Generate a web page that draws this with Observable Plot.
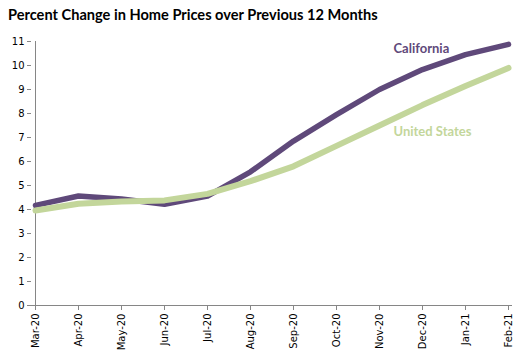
<!DOCTYPE html>
<html><head><meta charset="utf-8">
<script src="https://cdn.jsdelivr.net/npm/d3@7"></script>
<script src="https://cdn.jsdelivr.net/npm/@observablehq/plot@0.6"></script>
<style>
body{margin:0;background:#fff;}
#title{position:absolute;left:8px;top:6px;font:bold 14.6px Lato,sans-serif;color:#000;white-space:nowrap;}
#chart{position:absolute;left:0;top:30px;}
</style></head>
<body>
<div id="title">Percent Change in Home Prices over Previous 12 Months</div>
<div id="chart"></div>
<script>
const months = ["Mar-20","Apr-20","May-20","Jun-20","Jul-20","Aug-20","Sep-20","Oct-20","Nov-20","Dec-20","Jan-21","Feb-21"];
const california = [4.17,4.56,4.44,4.22,4.56,5.57,6.85,7.95,9.0,9.83,10.45,10.88];
const unitedStates = [3.96,4.24,4.33,4.38,4.65,5.18,5.8,6.65,7.5,8.35,9.15,9.9];
const yTicks = [0,1,2,3,4,5,6,7,8,9,10,11];

const purple = "#5f497a", green = "#c3d69b", axisGray = "#868686";
const rows = [];
months.forEach((m,i)=>{rows.push({m, v: unitedStates[i], s:"United States"});});
months.forEach((m,i)=>{rows.push({m, v: california[i], s:"California"});});

const chart = Plot.plot({
  width: 525, height: 332,
  marginTop: 11, marginBottom: 57, marginLeft: 31, marginRight: 13,
  style: {fontFamily: "DejaVu Sans, sans-serif", fontSize: "10px", color: "#000"},
  x: {type: "point", domain: months, padding: 0},
  y: {domain: [0, 11]},
  marks: [
    Plot.axisY({ticks: yTicks, tickSize: 4, tickPadding: 3, stroke: axisGray, label: null, tickFormat: d=>d, fill:"#000"}),
    Plot.axisX({tickRotate: -90, tickSize: 5, tickPadding: 3, stroke: axisGray, label: null, fill:"#000"}),
    Plot.ruleX([months[0]], {y1: 0, y2: 11, stroke: axisGray}),
    Plot.ruleY([0], {stroke: axisGray}),
    Plot.line(rows.filter(d=>d.s==="California"), {x:"m", y:"v", stroke: purple, strokeWidth: 5.5, strokeLinejoin:"round"}),
    Plot.line(rows.filter(d=>d.s==="United States"), {x:"m", y:"v", stroke: green, strokeWidth: 6, strokeLinejoin:"round"}),
    Plot.text(["California"], {x: ()=>"Nov-20", y: ()=>10.7, dx: 14, text: d=>d, textAnchor:"start", fill: purple, fontWeight:"bold", fontSize: 13, fontFamily:"Lato, sans-serif"}),
    Plot.text(["United States"], {x: ()=>"Nov-20", y: ()=>7.25, dx: 14, text: d=>d, textAnchor:"start", fill: green, fontWeight:"bold", fontSize: 13, fontFamily:"Lato, sans-serif"})
  ]
});
document.getElementById("chart").appendChild(chart);
</script>
</body></html>
